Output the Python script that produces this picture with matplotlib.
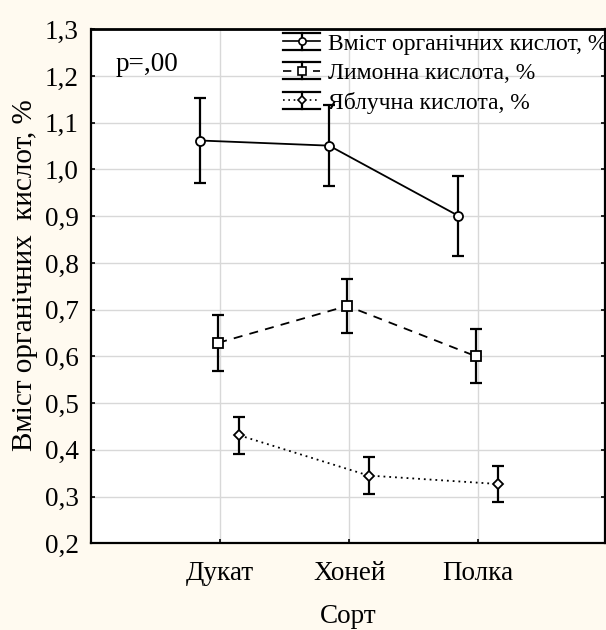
import matplotlib
matplotlib.use("Agg")
import matplotlib.pyplot as plt
from matplotlib.legend_handler import HandlerBase
from matplotlib.lines import Line2D
from matplotlib.ticker import FuncFormatter, MultipleLocator

plt.rcParams['font.family'] = ['Liberation Serif', 'DejaVu Serif']

categories = ['Дукат', 'Хоней', 'Полка']
series_names = ['Вміст органічних кислот, %', 'Лимонна кислота, %', 'Яблучна кислота, %']
total_acid = [1.062, 1.051, 0.901]
total_err = [0.090, 0.087, 0.086]
citric_acid = [0.629, 0.708, 0.600]
citric_err = [0.060, 0.057, 0.058]
malic_acid = [0.431, 0.345, 0.327]
malic_err = [0.040, 0.039, 0.039]

values = [total_acid, citric_acid, malic_acid]
errors = [total_err, citric_err, malic_err]
offsets = [-0.155, -0.015, 0.15]
linestyles = ['-', (0, (5, 4)), (0, (1, 2.2))]
markers = ['o', 's', 'D']
msizes = [6.5, 6.5, 5]

BG = '#FFFAF0'
fig = plt.figure(figsize=(6.06, 6.30), dpi=100, facecolor=BG)
W, H = 606, 630
L, R, T, B = 91, 604.7, 29.3, 543.3
ax = fig.add_axes([L / W, 1 - B / H, (R - L) / W, (B - T) / H])
ax.set_facecolor('white')

xpos = [1, 2, 3]
for vals, errs, off, ls, mk, ms in zip(values, errors, offsets, linestyles, markers, msizes):
    xs = [x + off for x in xpos]
    ax.plot(xs, vals, linestyle=ls, color='black', linewidth=1.3, zorder=3)
    ax.errorbar(xs, vals, yerr=errs, fmt='none', ecolor='black', elinewidth=1.6,
                capsize=4.5, capthick=1.6, zorder=4)
    ax.plot(xs, vals, linestyle='none', marker=mk, markersize=ms, markerfacecolor='white',
            markeredgecolor='black', markeredgewidth=1.3, zorder=5)

ax.set_xlim(0, 3.98)
ax.set_ylim(0.2, 1.3)
ax.set_xticks(xpos)
ax.set_xticklabels(categories)
ax.yaxis.set_major_locator(MultipleLocator(0.1))
ax.yaxis.set_major_formatter(FuncFormatter(lambda v, p: f"{v:.1f}".replace('.', ',')))
ax.grid(True, color='#d8d8d8', linewidth=1.0, zorder=0)
ax.set_axisbelow(True)
ax.tick_params(axis='both', direction='in', length=3, width=1.2, labelsize=19.5,
               right=True, top=False)
ax.tick_params(axis='y', pad=9)
ax.tick_params(axis='x', pad=13)
for s in ax.spines.values():
    s.set_linewidth(1.6)
ax.spines['top'].set_linewidth(2)

ax.set_xlabel('Сорт', fontsize=19.5, labelpad=13)
ax.set_ylabel('Вміст органічних  кислот, %', fontsize=21)
ax.yaxis.set_label_coords((38 - L) / (R - L), (B - 275) / (B - T))

fig.text(116 / W, 1 - 71 / H, 'p=,00', fontsize=19.5, ha='left', va='baseline')


class ErrHandler(HandlerBase):
    def __init__(self, ls, mk, ms):
        super().__init__()
        self.ls, self.mk, self.ms = ls, mk, ms

    def create_artists(self, legend, orig_handle, xdescent, ydescent, width, height,
                       fontsize, trans):
        cy = height / 2 - ydescent
        x0, x1 = -xdescent, width - xdescent
        cx = (x0 + x1) / 2
        dy = 6.2
        arts = []
        arts.append(Line2D([x0, x1], [cy, cy], linestyle=self.ls, color='black', linewidth=1.2))
        arts.append(Line2D([x0, x1], [cy + dy, cy + dy], color='black', linewidth=1.6))
        arts.append(Line2D([x0, x1], [cy - dy, cy - dy], color='black', linewidth=1.6))
        arts.append(Line2D([cx, cx], [cy - dy, cy + dy], color='black', linewidth=1.6))
        arts.append(Line2D([cx], [cy], marker=self.mk, markersize=self.ms, markerfacecolor='white',
                           markeredgecolor='black', markeredgewidth=1.2, linestyle='none'))
        for a in arts:
            a.set_transform(trans)
        return arts


proxies = [Line2D([], []) for _ in series_names]
hmap = {p: ErrHandler(ls, mk, ms * 0.8) for p, ls, mk, ms in zip(proxies, linestyles, markers, msizes)}
leg = fig.legend(proxies, series_names, handler_map=hmap, loc='upper left',
                 bbox_to_anchor=(283 / W, 1 - 33 / H), frameon=False, fontsize=17,
                 borderpad=0, borderaxespad=0, handlelength=1.57, handletextpad=0.33,
                 labelspacing=0.33, handleheight=0.7)

fig.savefig('out.png', dpi=100, facecolor=BG)
